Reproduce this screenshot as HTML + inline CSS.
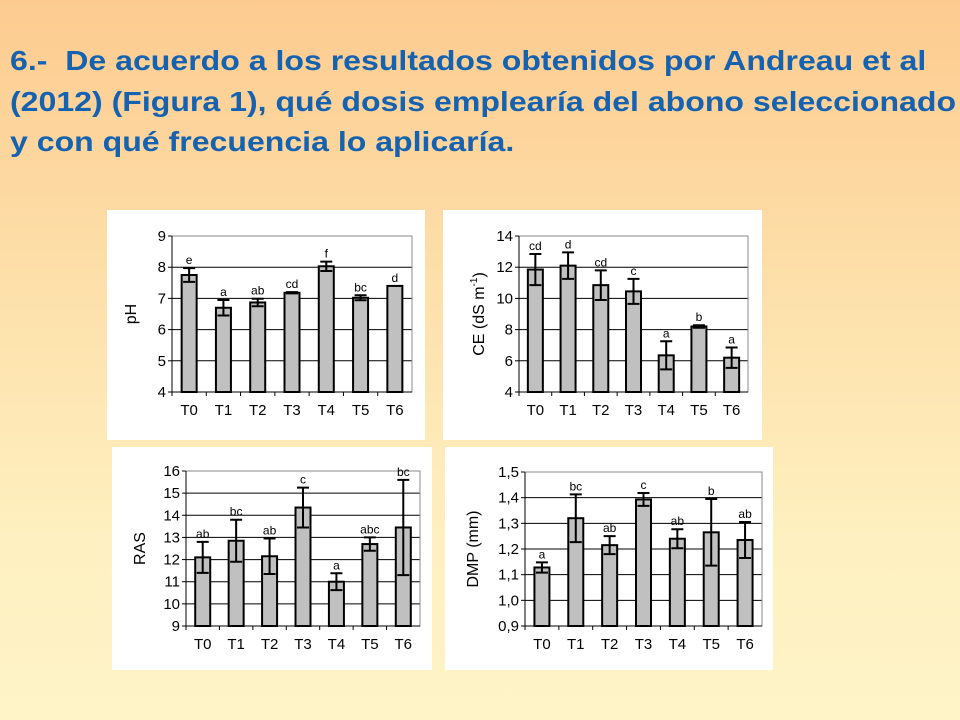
<!DOCTYPE html>
<html><head><meta charset="utf-8"><style>
html,body{margin:0;padding:0}
body{width:960px;height:720px;overflow:hidden;background:linear-gradient(#fdcb90 0%,#fde0aa 40%,#fef0c0 75%,#fef4c8 100%);font-family:"Liberation Sans",Arial,sans-serif;position:relative}
.t{position:absolute;left:10px;font-size:28px;font-weight:bold;color:#1462b0;white-space:nowrap;transform:scaleX(1.145);transform-origin:0 0}
.panel{position:absolute;background:#fff}
</style></head><body>
<div class="t" style="top:45px">6.-&nbsp; De acuerdo a los resultados obtenidos por Andreau et al</div>
<div class="t" style="top:86px">(2012) (Figura 1), qué dosis emplearía del abono seleccionado</div>
<div class="t" style="top:126px">y con qué frecuencia lo aplicaría.</div>
<div class="panel" style="left:107px;top:210px;width:318px;height:230px"></div>
<div class="panel" style="left:443px;top:210px;width:319px;height:230px"></div>
<div class="panel" style="left:112px;top:447px;width:320px;height:223px"></div>
<div class="panel" style="left:445px;top:447px;width:328px;height:223px"></div>
<svg id="svg" width="960" height="720" style="position:absolute;left:0;top:0"></svg>
<script>
const categories=["T0","T1","T2","T3","T4","T5","T6"];
const phValues=[7.75,6.7,6.87,7.18,8.03,7.02,7.4];
const phErrors=[0.22,0.25,0.12,0.02,0.15,0.08,0];
const phLetters=["e","a","ab","cd","f","bc","d"];
const phTicks=["4","5","6","7","8","9"];
const ceValues=[11.85,12.1,10.85,10.45,6.35,8.2,6.2];
const ceErrors=[1.0,0.85,0.95,0.8,0.9,0.08,0.65];
const ceLetters=["cd","d","cd","c","a","b","a"];
const ceTicks=["4","6","8","10","12","14"];
const rasValues=[12.1,12.85,12.15,14.35,11.0,12.7,13.45];
const rasErrors=[0.7,0.95,0.8,0.9,0.38,0.3,2.15];
const rasLetters=["ab","bc","ab","c","a","abc","bc"];
const rasTicks=["9","10","11","12","13","14","15","16"];
const dmpValues=[1.128,1.32,1.215,1.393,1.24,1.265,1.235];
const dmpErrors=[0.02,0.093,0.035,0.025,0.037,0.13,0.07];
const dmpLetters=["a","bc","ab","c","ab","b","ab"];
const dmpTicks=["0,9","1,0","1,1","1,2","1,3","1,4","1,5"];

const NS="http://www.w3.org/2000/svg";
const svg=document.getElementById('svg');
function mk(tag,attrs,parent){const e=document.createElementNS(NS,tag);for(const k in attrs)e.setAttribute(k,attrs[k]);(parent||svg).appendChild(e);return e;}

function chart(id,box,ticks,values,errors,letters,ylabel){
  const g=mk('g',{});
  
  
  const tv=ticks.map(t=>parseFloat(t.replace(',','.')));
  const ymin=tv[0],ymax=tv[tv.length-1];
  const y=v=>box.y1-(v-ymin)/(ymax-ymin)*(box.y1-box.y0);
  const bw=(box.x1-box.x0)/categories.length;
  const x=i=>box.x0+bw*(i+0.5);
  ticks.forEach((t,i)=>{
    const yy=y(tv[i]);
    if(i>0){const l=mk('line',{x1:box.x0,x2:box.x1,y1:yy,y2:yy,stroke:'#000','stroke-width':1},g);
      
      }
    mk('line',{x1:box.x0-4,x2:box.x0,y1:yy,y2:yy,stroke:'#000'},g);
    const tx=mk('text',{x:box.x0-6,y:yy+5,'text-anchor':'end','font-size':15,fill:'#000'},g);
    tx.textContent=t;
    
    
  });
  mk('rect',{x:box.x0,y:box.y0,width:box.x1-box.x0,height:box.y1-box.y0,fill:'none',stroke:'#888'},g);
  mk('line',{x1:box.x0,x2:box.x0,y1:box.y0,y2:box.y1,stroke:'#000'},g);
  mk('line',{x1:box.x0,x2:box.x1,y1:box.y1,y2:box.y1,stroke:'#000'},g);
  categories.forEach((c,i)=>{
    const xx=x(i);
    mk('line',{x1:box.x0+bw*i,x2:box.x0+bw*i,y1:box.y1,y2:box.y1+4,stroke:'#000'},g);
    const b=mk('rect',{x:xx-7.5,y:y(values[i]),width:15,height:box.y1-y(values[i]),fill:'#c0c0c0',stroke:'#000','stroke-width':2},g);
    
    
    if(errors[i]>0){
      const hi=y(values[i]+errors[i]),lo=y(values[i]-errors[i]);
      const e=mk('path',{d:`M${xx},${hi}V${lo}M${xx-6},${hi}H${xx+6}M${xx-6},${lo}H${xx+6}`,stroke:'#000','stroke-width':2,fill:'none'},g);
      
      
    }
    const top=y(values[i]+errors[i]);
    const lt=mk('text',{x:xx,y:top-4,'text-anchor':'middle','font-size':12,fill:'#000'},g);
    lt.textContent=letters[i];
    
    
    const ct=mk('text',{x:xx,y:box.y1+23,'text-anchor':'middle','font-size':15,fill:'#000'},g);
    ct.textContent=c;
    
    
  });
  const yl=mk('text',{x:0,y:0,'text-anchor':'middle','font-size':16,transform:`translate(${box.lx},${(box.y0+box.y1)/2}) rotate(-90)`},g);
  yl.innerHTML=ylabel;
  
  
}
chart('ph',{x0:172,x1:412,y0:236,y1:392,lx:136},phTicks,phValues,phErrors,phLetters,'pH');
chart('ce',{x0:519,x1:748,y0:236,y1:392,lx:484},ceTicks,ceValues,ceErrors,ceLetters,'CE (dS m<tspan dy="-7" font-size="10">-1</tspan><tspan dy="7">)</tspan>');
chart('ras',{x0:186,x1:420,y0:471,y1:626,lx:145},rasTicks,rasValues,rasErrors,rasLetters,'RAS');
chart('dmp',{x0:525,x1:762,y0:472,y1:626,lx:478},dmpTicks,dmpValues,dmpErrors,dmpLetters,'DMP (mm)');
</script>
</body></html>
